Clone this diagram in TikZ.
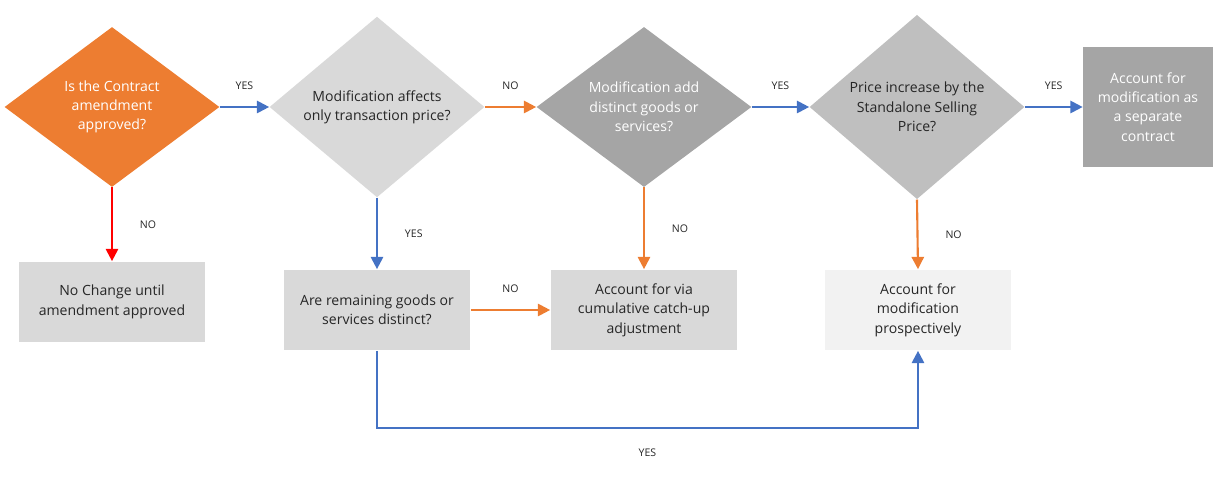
\documentclass[tikz,border=0pt]{standalone}
\usepackage{fontspec}
\setmainfont{Open Sans}
\usetikzlibrary{shapes.geometric, arrows.meta, positioning}
\definecolor{orng}{HTML}{ED7D31}
\definecolor{blu}{HTML}{4472C4}
\definecolor{lgray}{HTML}{D9D9D9}
\definecolor{mgray}{HTML}{BFBFBF}
\definecolor{dgray}{HTML}{A5A5A5}
\definecolor{vlgray}{HTML}{F2F2F2}
\definecolor{txt}{HTML}{262626}

\begin{document}
\begin{tikzpicture}[x=0.02cm, y=-0.02cm,
    decision/.style={diamond, draw=none, minimum width=4.3cm, minimum height=3.2cm, inner sep=0pt, align=center, font=\fontsize{8}{11}\selectfont, text=txt},
    outcome/.style={rectangle, draw=none, minimum width=3.74cm, minimum height=1.62cm, align=center, font=\fontsize{8}{11}\selectfont, text=txt},
    flow/.style={line width=1.2pt, -{Triangle[length=7pt, width=7pt]}},
    lbl/.style={font=\fontsize{6}{7}\selectfont, text=txt}]
  \useasboundingbox (0,0) rectangle (1225,486);

  % decisions
  \node[decision, fill=orng, text=white] (approved) at (112,107) {Is the Contract\\amendment\\approved?};
  \node[decision, fill=lgray] (onlyprice) at (377,107) {Modification affects\\only transaction price?};
  \node[decision, fill=dgray, text=white] (distinct) at (644,107) {Modification add\\distinct goods or\\services?};
  \node[decision, fill=mgray] (ssp) at (917,107) {Price increase by the\\Standalone Selling\\Price?};

  % outcomes
  \node[outcome, fill=dgray, text=white, minimum width=2.6cm, minimum height=2.42cm] (separate) at (1148,107) {Account for\\modification as\\a separate\\contract};
  \node[outcome, fill=lgray] (nochange) at (112,302) {No Change until\\amendment approved};
  \node[outcome, fill=lgray] (remaining) at (377,310) {Are remaining goods or\\services distinct?};
  \node[outcome, fill=lgray] (catchup) at (644,310) {Account for via\\cumulative catch-up\\adjustment};
  \node[outcome, fill=vlgray] (prospect) at (918,310) {Account for\\modification\\prospectively};

  % connectors
  \draw[flow, blu] (approved.east) -- node[lbl, above=6pt] {YES} (onlyprice.west);
  \draw[flow, orng] (onlyprice.east) -- node[lbl, above=6pt] {NO} (distinct.west);
  \draw[flow, blu] (distinct.east) -- node[lbl, above=6pt] {YES} (ssp.west);
  \draw[flow, blu] (ssp.east) -- node[lbl, above=6pt] {YES} (separate.west);

  \draw[flow, red] (approved.south) -- node[lbl, right=12pt] {NO} (nochange.north);
  \draw[flow, blu] (onlyprice.south) -- node[lbl, right=12pt] {YES} (remaining.north);
  \draw[flow, orng] (distinct.south) -- node[lbl, right=12pt] {NO} (catchup.north);
  \draw[flow, orng] (ssp.south) -- node[lbl, right=12pt] {NO} (prospect.north);
  \draw[flow, orng] (remaining.east) -- node[lbl, above=6pt] {NO} (catchup.west);

  \coordinate (loop) at (377,428);
  \draw[flow, blu] (remaining.south) -- (loop) -| node[lbl, pos=0.25, below=8pt] {YES} (prospect.south);
\end{tikzpicture}
\end{document}
